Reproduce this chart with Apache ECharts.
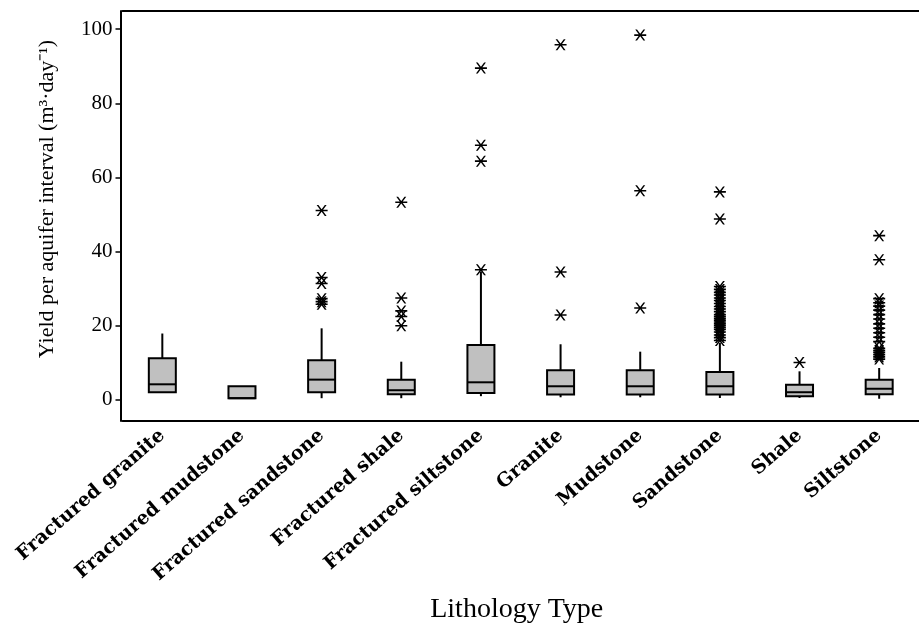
<!DOCTYPE html>
<html>
<head>
<meta charset="utf-8">
<script src="https://cdn.jsdelivr.net/npm/echarts@6/dist/echarts.min.js"></script>
<style>
html,body{margin:0;padding:0;background:#fff;}
#chart{width:919px;height:629px;}
</style>
</head>
<body>
<div id="chart"></div>
<script>
const categories = ['Fractured granite','Fractured mudstone','Fractured sandstone','Fractured shale','Fractured siltstone','Granite','Mudstone','Sandstone','Shale','Siltstone'];
const whiskerLow  = [2.06, 0.45, 0.45, 0.45, 1.0, 0.7, 0.7, 0.5, 0.5, 0.3];
const q1          = [2.06, 0.45, 2.06, 1.5, 1.87, 1.45, 1.45, 1.45, 1.0, 1.5];
const medians     = [4.2, 0.45, 5.46, 2.6, 4.74, 3.67, 3.67, 3.67, 2.06, 3.0];
const q3          = [11.2, 3.67, 10.7, 5.4, 14.8, 8.0, 8.0, 7.5, 4.1, 5.46];
const whiskerHigh = [17.9, 3.67, 19.3, 10.3, 34.6, 15.0, 13.0, 15.4, 7.7, 8.6];
const outliersFracturedSandstone = [51.1, 33.0, 31.4, 27.3, 26.5, 25.8];
const outliersFracturedShale = [53.3, 27.5, 24.0, 22.5, 20.0];
const outliersFracturedSiltstone = [89.5, 68.7, 64.4, 35.1];
const outliersGranite = [95.8, 34.5, 22.9];
const outliersMudstone = [98.4, 56.4, 24.8];
const outliersSandstone = [56.1, 48.8, 30.6, 29.8, 29.0, 28.3, 27.5, 26.8, 26.0, 25.2, 24.5, 23.8, 23.0, 22.5, 22.0, 21.5, 21.0, 20.5, 20.0, 19.5, 19.0, 18.3, 17.5, 16.8, 16.0];
const outliersShale = [10.1];
const outliersSiltstone = [44.3, 37.8, 27.3, 26.2, 25.3, 24.2, 23.0, 21.8, 20.5, 19.3, 18.1, 16.9, 15.7, 13.9, 13.3, 12.8, 12.2, 11.6, 11.0];
const yTicks = [0, 20, 40, 60, 80, 100];

const outlierSets = {
  'Fractured sandstone': outliersFracturedSandstone,
  'Fractured shale': outliersFracturedShale,
  'Fractured siltstone': outliersFracturedSiltstone,
  'Granite': outliersGranite,
  'Mudstone': outliersMudstone,
  'Sandstone': outliersSandstone,
  'Shale': outliersShale,
  'Siltstone': outliersSiltstone
};

const boxData = categories.map((c, i) => [i, whiskerLow[i], q1[i], medians[i], q3[i], whiskerHigh[i]]);
const outlierData = [];
Object.keys(outlierSets).forEach(name => {
  const idx = categories.indexOf(name);
  outlierSets[name].forEach(v => outlierData.push([idx, v]));
});

const starPath = 'path://M0,4.7L12,4.7L12,6.3L0,6.3Z M1,0L2.8,0L11,11L9.2,11Z M9.2,0L11,0L2.8,11L1,11Z';

function renderBox(params, api) {
  const x = api.value(0);
  const pLow = api.coord([x, api.value(1)]);
  const pQ1 = api.coord([x, api.value(2)]);
  const pMed = api.coord([x, api.value(3)]);
  const pQ3 = api.coord([x, api.value(4)]);
  const pHigh = api.coord([x, api.value(5)]);
  const hw = 13.5;
  const cx = pQ1[0];
  const stroke = {stroke: '#000', lineWidth: 2, fill: null};
  const children = [];
  if (Math.abs(pLow[1] - pQ1[1]) > 0.5) {
    children.push({type: 'line', shape: {x1: cx, y1: pQ1[1], x2: cx, y2: pLow[1]}, style: stroke});
  }
  if (Math.abs(pHigh[1] - pQ3[1]) > 0.5) {
    children.push({type: 'line', shape: {x1: cx, y1: pQ3[1], x2: cx, y2: pHigh[1]}, style: stroke});
  }
  children.push({type: 'rect', shape: {x: cx - hw, y: pQ3[1], width: hw * 2, height: pQ1[1] - pQ3[1]}, style: {fill: '#c0c0c0', stroke: '#000', lineWidth: 2}});
  children.push({type: 'line', shape: {x1: cx - hw, y1: pMed[1], x2: cx + hw, y2: pMed[1]}, style: stroke});
  return {type: 'group', children: children};
}

const chart = echarts.init(document.getElementById('chart'), null, {renderer: 'canvas'});
chart.setOption({
  animation: false,
  backgroundColor: '#fff',
  grid: {left: 122.5, right: -8.5, top: 11, bottom: 205},
  xAxis: [{
    type: 'category',
    data: categories,
    boundaryGap: true,
    axisLine: {onZero: false, lineStyle: {color: '#000', width: 2}},
    axisTick: {alignWithLabel: true, length: 5, lineStyle: {color: '#000', width: 1.5}},
    axisLabel: {rotate: 41, margin: 12, color: '#000', fontFamily: 'DejaVu Serif', fontWeight: 'bold', fontSize: 19, interval: 0},
    splitLine: {show: false},
    name: 'Lithology Type',
    nameLocation: 'middle',
    nameGap: 175,
    nameTextStyle: {color: '#000', fontFamily: 'Liberation Serif', fontSize: 28, padding: [0, 8, 0, 0]}
  }, {
    type: 'category',
    data: categories,
    position: 'top',
    axisLine: {onZero: false, lineStyle: {color: '#000', width: 2}},
    axisTick: {show: false},
    axisLabel: {show: false}
  }],
  yAxis: {
    type: 'value',
    min: -5.7,
    max: 104.9,
    offset: 2,
    axisLine: {show: true, lineStyle: {color: '#000', width: 2}},
    axisTick: {show: true, length: 5, lineStyle: {color: '#000', width: 1.5}, customValues: yTicks},
    axisLabel: {color: '#000', fontFamily: 'Liberation Serif', fontSize: 21, margin: 8, customValues: yTicks},
    splitLine: {show: false},
    name: 'Yield per aquifer interval (m³·day⁻¹)',
    nameLocation: 'middle',
    nameGap: 62,
    nameTextStyle: {color: '#000', fontFamily: 'Liberation Serif', fontSize: 22, padding: [0, 0, 0, 34]}
  },
  series: [{
    type: 'custom',
    renderItem: renderBox,
    encode: {x: 0, y: [1, 2, 3, 4, 5]},
    data: boxData,
    z: 2
  }, {
    type: 'scatter',
    symbol: starPath,
    symbolSize: [12, 11],
    itemStyle: {color: '#000', opacity: 1},
    data: outlierData,
    z: 3
  }]
});
</script>
</body>
</html>
